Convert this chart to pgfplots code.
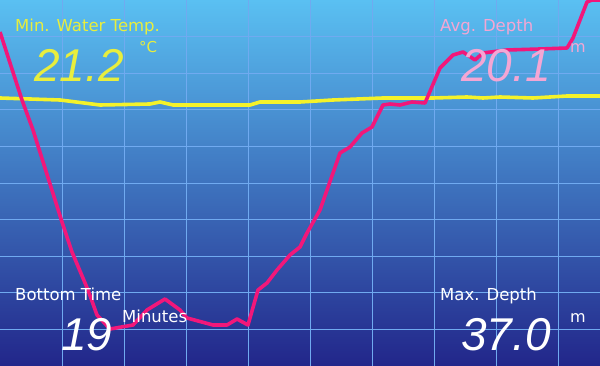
\documentclass[border=0pt]{standalone}
\usepackage{pgfplots}
\pgfplotsset{compat=1.18}
\usepackage{fontspec}
\setmainfont{Liberation Sans}
\newfontfamily\lab{DejaVu Sans}
\definecolor{bgtop}{RGB}{90,192,242}
\definecolor{bgmid}{RGB}{64,126,200}
\definecolor{bgbot}{RGB}{34,38,138}
\definecolor{gridc}{RGB}{112,170,240}
\definecolor{pinkline}{RGB}{242,23,122}
\definecolor{yelline}{RGB}{244,242,42}
\definecolor{yeltext}{RGB}{232,238,62}
\definecolor{pinktext}{RGB}{244,166,212}
\begin{document}
\begin{tikzpicture}
\begin{axis}[
  scale only axis, width=600pt, height=366pt,
  xmin=0, xmax=600, ymin=0, ymax=366, y dir=reverse,
  axis line style={draw=none},
  axis background/.style={top color=bgtop, middle color=bgmid, bottom color=bgbot},
  xtick={62,124,186,248,310,372,434,496,558},
  ytick={36.6,73.2,109.8,146.4,183,219.6,256.2,292.8,329.4},
  major tick length=0pt,
  xticklabels={}, yticklabels={},
  grid=major,
  grid style={color=gridc, line width=0.8pt},
]
\addplot[color=yelline, line width=3.6pt, line join=round] coordinates {
(0,98)(60,100)(100,105)(150,104)(160,102)(173,105)(250,105)(260,102)(300,102)(333,100)(383,98)(433,98)(467,97)(483,98)(500,97)(533,98)(567,96)(600,96)};
\addplot[color=pinkline, line width=3.6pt, line join=round] coordinates {
(0,32)(22,100)(33,130)(62,222)(72,252)(88,290)(97,315)(110,329)(133,325)(147,310)(165,299)(180,310)(187,318)(213,325)(227,325)(237,319)(248,325)(258,290)(267,283)(277,270)(290,255)(300,247)(307,233)(320,210)(340,153)(350,147)(362,133)(372,127)(383,105)(390,104)(400,105)(412,102)(425,103)(440,68)(453,55)(463,52)(475,60)(483,53)(507,50)(540,49)(567,48)(573,38)(587,2)(592,0)(600,0)};
\node[anchor=base west, inner sep=0, text=yeltext, font=\lab\fontsize{16.5}{18}\selectfont] at (axis cs:15,32) {Min. Water Temp.};
\node[anchor=base west, inner sep=0, text=yeltext, font=\fontsize{46}{50}\selectfont\itshape] at (axis cs:34,82) {21.2};
\node[anchor=base west, inner sep=0, text=yeltext, font=\lab\fontsize{15}{17}\selectfont] at (axis cs:139,53) {°C};
\node[anchor=base west, inner sep=0, text=pinktext, font=\lab\fontsize{16.5}{18}\selectfont] at (axis cs:440,32) {Avg. Depth};
\node[anchor=base west, inner sep=0, text=pinktext, font=\fontsize{46}{50}\selectfont\itshape] at (axis cs:461,82) {20.1};
\node[anchor=base west, inner sep=0, text=pinktext, font=\lab\fontsize{16}{18}\selectfont] at (axis cs:570,53) {m};
\node[anchor=base west, inner sep=0, text=white, font=\lab\fontsize{16.5}{18}\selectfont] at (axis cs:15,301) {Bottom Time};
\node[anchor=base west, inner sep=0, text=white, font=\fontsize{46}{50}\selectfont\itshape] at (axis cs:61,350) {19};
\node[anchor=base west, inner sep=0, text=white, font=\lab\fontsize{16.5}{18}\selectfont] at (axis cs:122,322) {Minutes};
\node[anchor=base west, inner sep=0, text=white, font=\lab\fontsize{16.5}{18}\selectfont] at (axis cs:440,301) {Max. Depth};
\node[anchor=base west, inner sep=0, text=white, font=\fontsize{46}{50}\selectfont\itshape] at (axis cs:461,350) {37.0};
\node[anchor=base west, inner sep=0, text=white, font=\lab\fontsize{16}{18}\selectfont] at (axis cs:570,322) {m};
\end{axis}
\pgfresetboundingbox
\useasboundingbox (current axis.south west) rectangle (current axis.north east);
\end{tikzpicture}
\end{document}
